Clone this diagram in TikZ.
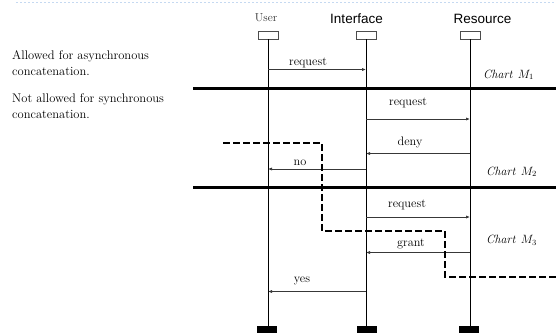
\documentclass[tikz,border=0pt]{standalone}
\usepackage{fontspec}
\newfontfamily\headfont{Liberation Sans}
\usetikzlibrary{arrows.meta}
\definecolor{topline}{HTML}{C5D9F1}
\definecolor{msgcol}{HTML}{383838}
\begin{document}
\begin{tikzpicture}[x=1pt,y=-1pt,
  headbox/.style={draw=black!70,line width=0.5pt,minimum width=20pt,minimum height=8pt,inner sep=0pt},
  endbar/.style={fill=black,minimum width=20pt,minimum height=7pt,inner sep=0pt},
  lifeline/.style={line width=0.9pt},
  msg/.style={draw=msgcol,line width=0.75pt,-{Latex[length=4pt,width=3.2pt]}},
  msglabel/.style={anchor=base,inner sep=0pt,font=\fontsize{12.3}{14}\selectfont,text=black},
  sepline/.style={line width=2.2pt},
  cut/.style={line width=1.5pt,dash pattern=on 6.5pt off 3.5pt},
  chartlabel/.style={anchor=base west,inner sep=0pt,font=\fontsize{12}{14}\selectfont\itshape},
  note/.style={anchor=base west,inner sep=0pt,align=left,font=\fontsize{12.5}{16}\selectfont},
  party/.style={anchor=base,inner sep=0pt,font=\headfont\fontsize{13.5}{15}\selectfont}]
\useasboundingbox (0,0) rectangle (556,333);

% dotted rule along the top
\draw[topline,line width=1pt,dash pattern=on 1.5pt off 2.5pt] (16,2) -- (556,2);

% participants
\node[anchor=base,inner sep=0pt,font=\fontsize{11.5}{13}\selectfont,text=black!80] (ulab) at (266,21) {User};
\node[party] (ilab) at (356.5,23) {Interface};
\node[party] (rlab) at (482.5,23) {Resource};

\node[headbox] (uh) at (268,35) {};
\node[headbox] (ih) at (366,35) {};
\node[headbox] (rh) at (470,35) {};
\node[endbar] (ub) at (267,329.5) {};
\node[endbar] (ib) at (367,329.5) {};
\node[endbar] (rb) at (469,329.5) {};

\draw[lifeline] (uh.south) -- (uh.south |- ub.north);
\draw[lifeline] (ih.south) -- (ih.south |- ib.north);
\draw[lifeline] (rh.south) -- (rh.south |- rb.north);

% chart boundaries
\draw[sepline] (193,88.5) -- (556,88.5);
\draw[sepline] (193,187.5) -- (556,187.5);

% messages
\draw[msg] (uh |- 0,69.5) -- (ih |- 0,69.5);
\node[msglabel] (l1) at (308,65.5) {request};
\draw[msg] (ih |- 0,119) -- (rh |- 0,119);
\node[msglabel] (l2) at (408,105) {request};
\draw[msg] (rh |- 0,153.5) -- (ih |- 0,153.5);
\node[msglabel] (l3) at (410,145) {deny};
\draw[msg] (ih |- 0,169) -- (uh |- 0,169);
\node[msglabel] (l4) at (300,165) {no};
\draw[msg] (ih |- 0,217) -- (rh |- 0,217);
\node[msglabel] (l5) at (407,207) {request};
\draw[msg] (rh |- 0,252.5) -- (ih |- 0,252.5);
\node[msglabel] (l6) at (411,246.5) {grant};
\draw[msg] (ih |- 0,291.5) -- (uh |- 0,291.5);
\node[msglabel] (l7) at (302,282) {yes};

% chart names
\node[chartlabel] (c1) at (483,78) {Chart\hspace{0.45em}$M_1$};
\node[chartlabel] (c2) at (486,175) {Chart\hspace{0.45em}$M_2$};
\node[chartlabel] (c3) at (486,243.5) {Chart\hspace{0.45em}$M_3$};

% synchronous cut
\draw[cut] (223,143) -- (322,143) -- (322,231) -- (445,231) -- (445,277) -- (556,277);

% notes
\node[note] (n1) at (12,75) {Allowed for asynchronous\\concatenation.};
\node[note] (n2) at (12,118) {Not allowed for synchronous\\concatenation.};
\end{tikzpicture}
\end{document}
